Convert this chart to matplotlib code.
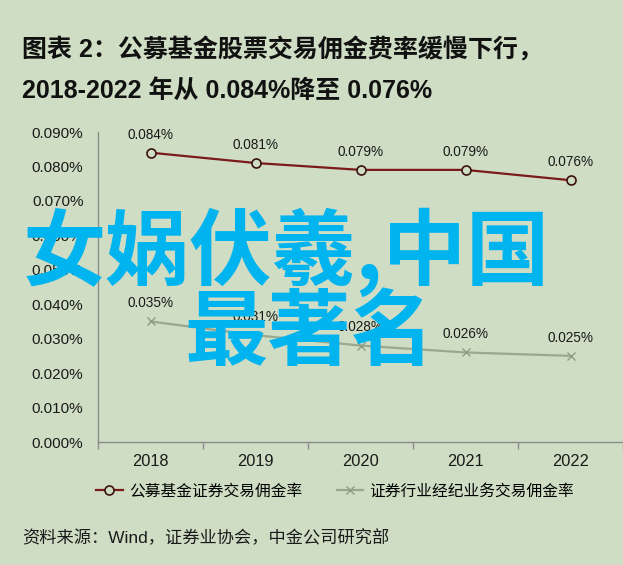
import matplotlib
matplotlib.use("Agg")
import matplotlib.pyplot as plt
import numpy as np

years = ["2018", "2019", "2020", "2021", "2022"]
fund_rate = [0.084, 0.081, 0.079, 0.079, 0.076]
broker_rate = [0.035, 0.031, 0.028, 0.026, 0.025]
fund_labels = ["0.084%", "0.081%", "0.079%", "0.079%", "0.076%"]
broker_labels = ["0.035%", "0.031%", "0.028%", "0.026%", "0.025%"]
y_ticks = [0.0, 0.01, 0.02, 0.03, 0.04, 0.05, 0.06, 0.07, 0.08, 0.09]
series_names = ["公募基金证券交易佣金率", "证券行业经纪业务交易佣金率"]
title_lines = ["图表 2：公募基金股票交易佣金费率缓慢下行，", "2018-2022 年从 0.084%降至 0.076%"]
source = "资料来源：Wind，证券业协会，中金公司研究部"
overlay = ["女娲伏羲,中国", "最著名"]

FAM = ["Liberation Sans", "Noto Sans CJK SC", "DejaVu Sans"]
plt.rcParams['font.family'] = FAM

BG = "#CFDDC4"
RED = "#7A1A1A"
GRAY = "#9AA890"
AX = "#8C8C8C"

W, H = 623, 565
fig = plt.figure(figsize=(W/100, H/100), dpi=100, facecolor=BG)
ax = fig.add_axes([98/W, 1-442/H, 1-98/W, (442-132)/H])
ax.set_facecolor(BG)

x = np.arange(len(years))
ax.plot(x, fund_rate, color=RED, lw=1.6, marker='o', ms=6.5, mfc=BG, mec="#3a1010", mew=1.2,
        label=series_names[0], zorder=3)
ax.plot(x, broker_rate, color=GRAY, lw=1.6, marker='x', ms=6, mec="#8e9c86", mew=1.0,
        label=series_names[1], zorder=3)

for xi, v, s in zip(x, fund_rate, fund_labels):
    ax.annotate(s, (xi, v), xytext=(0, 8), textcoords='offset points', ha='center', va='bottom',
                fontsize=9.8, color="#1a1a1a")
for xi, v, s in zip(x, broker_rate, broker_labels):
    ax.annotate(s, (xi, v), xytext=(0, 8), textcoords='offset points', ha='center', va='bottom',
                fontsize=9.8, color="#1a1a1a")

ax.set_xlim(-0.5, -0.5 + (W-98)/106.7)
ax.set_ylim(0, 0.09)
ax.set_yticks(y_ticks)
ax.set_yticklabels([f"{v:.3f}%" for v in y_ticks], fontsize=11, color="#1a1a1a")
ax.tick_params(axis='y', length=0, pad=10.5)
ax.set_xticks(x)
ax.set_xticklabels(years, fontsize=11.8, color="#1a1a1a")
ax.set_xticks(np.arange(-0.5, 5, 1.0), minor=True)
ax.tick_params(axis='x', which='major', length=0, pad=9)
ax.tick_params(axis='x', which='minor', length=5, color=AX, width=1)
for s in ['top', 'right']:
    ax.spines[s].set_visible(False)
for s in ['left', 'bottom']:
    ax.spines[s].set_color(AX)
    ax.spines[s].set_linewidth(1)

leg = fig.legend(loc='center', bbox_to_anchor=(335/W, 1-491/H), ncol=2, frameon=False,
                 fontsize=11.3, handlelength=1.7, handletextpad=0.38, columnspacing=2.2)

fig.text(22/W, 1-50/H, title_lines[0], fontsize=18, fontweight='bold', va='center', ha='left', color="#111111")
fig.text(22/W, 1-91/H, title_lines[1], fontsize=18, fontweight='bold', va='center', ha='left', color="#111111")
fig.text(22/W, 1-538/H, source, fontsize=12.4, va='center', ha='left', color="#1a1a1a")

fig.text(286/W, 1-252/H, overlay[0], fontsize=60, fontweight='bold', color="#00B4F0",
         ha='center', va='center', family=["Noto Sans CJK SC", "DejaVu Sans"], zorder=10)
fig.text(310/W, 1-334/H, overlay[1], fontsize=60, fontweight='bold', color="#00B4F0",
         ha='center', va='center', family=["Noto Sans CJK SC", "DejaVu Sans"], zorder=10)

fig.savefig("out.png", dpi=100, facecolor=BG)
